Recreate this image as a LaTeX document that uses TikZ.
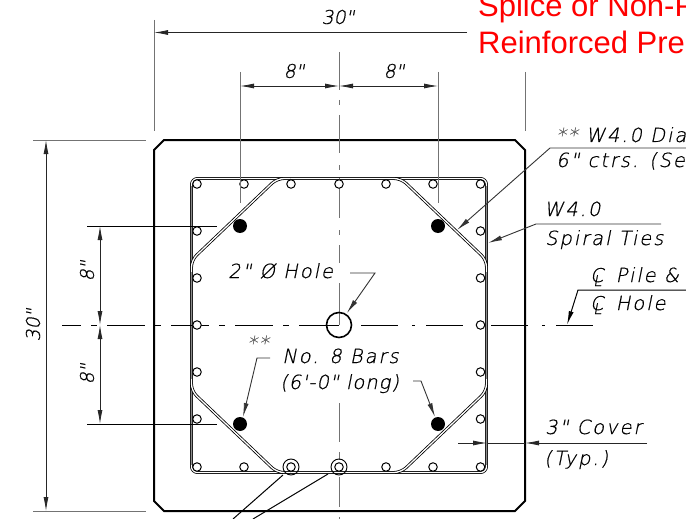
\documentclass[tikz,border=0pt]{standalone}
\usepackage{fontspec}
\setmainfont{DejaVu Sans}
\newfontfamily\dimfont[FakeSlant=0.2,FakeBold=0.6]{DejaVu Sans ExtraLight}
\newfontfamily\notefont[FakeSlant=0.2,FakeBold=0.6,LetterSpace=10]{DejaVu Sans ExtraLight}
\newfontfamily\tightfont[FakeSlant=0.2,FakeBold=0.6,LetterSpace=5]{DejaVu Sans ExtraLight}
\newfontfamily\redfont{Liberation Sans}
\newcommand{\clsym}{\makebox[0pt][l]{\fontsize{19}{19}\selectfont C}\hspace{3pt}\raisebox{-4pt}{\fontsize{15}{15}\selectfont L}}
\usetikzlibrary{arrows.meta}
\tikzset{
    >={Latex[length=14pt,width=5pt]},
    dimline/.style={line width=0.8pt,black!85},
    extline/.style={line width=1pt,black!55},
    leader/.style={line width=0.9pt,black!80},
    cline/.style={line width=1pt,black},
    rebar/.style={line width=0.8pt,double=white,double distance=1.3pt},
    dimtext/.style={font=\dimfont\fontsize{19}{19}\selectfont,inner sep=0pt},
    notetext/.style={font=\notefont\fontsize{19.5}{19}\selectfont,inner sep=0pt,anchor=base west},
    redtext/.style={font=\redfont\fontsize{31}{31}\selectfont,text=red,inner sep=0pt,anchor=base west},
    strand/.style={circle,draw,fill=white,line width=1pt,minimum size=8.5pt,inner sep=0pt},
    bar/.style={circle,fill=black,minimum size=14pt,inner sep=0pt},
}
\begin{document}
\begin{tikzpicture}[x=1pt,y=-1pt]
    \path[use as bounding box,clip] (0,0) rectangle (686,519);
    \draw[line width=2pt] (164,140) -- (515,140) -- (525,150) -- (525,501) -- (515,511) -- (164,511) -- (154,501) -- (154,150) -- cycle;
    % spiral and ties
    \draw[rebar,rounded corners=6pt] (191.5,178.5) rectangle (486.5,472.5);
    \draw[line width=1.5pt,black!45] (191.5,186) -- (191.5,465);
    \draw[line width=1.5pt,black!45] (486.5,186) -- (486.5,465);
    \draw[rebar,rounded corners=7pt] (191.5,272) -- (191.5,260) -- (277,178.5) -- (290,178.5);
    \draw[rebar,rounded corners=7pt] (486.5,272) -- (486.5,260) -- (401,178.5) -- (388,178.5);
    \draw[rebar,rounded corners=7pt] (191.5,379) -- (191.5,391) -- (277,472.5) -- (290,472.5);
    \draw[rebar,rounded corners=7pt] (486.5,379) -- (486.5,391) -- (401,472.5) -- (388,472.5);
    % centre lines
    \foreach \ya/\yb in {52/90,100/105,115/153,165/170,178/218,230/235,245/263,283/325,403/442,452/460,477/507,517/519}
        \draw[extline] (339,\ya) -- (339,\yb);
    \draw[cline,dash pattern=on 38pt off 10pt on 6pt off 10pt,dash phase=19pt] (62,325) -- (339,325);
    \draw[cline,dash pattern=on 37pt off 14pt on 3pt off 11pt] (361,325) -- (594,325);
    % strands
    \foreach \x [count=\i] in {197,244,291,339,386,433,480.5} {
        \node[strand] (top\i) at (\x,184) {};
        \node[strand] (bot\i) at (\x,467) {};
    }
    \foreach \y [count=\i] in {231,278,325,372,419} {
        \node[strand] (lft\i) at (197,\y) {};
        \node[strand] (rgt\i) at (480.5,\y) {};
    }
    \draw[line width=0.9pt] (bot3) circle[radius=8];
    \draw[line width=0.9pt] (bot4) circle[radius=8];
    \node[bar] (barNW) at (240,226) {};
    \node[bar] (barNE) at (438,226) {};
    \node[bar] (barSW) at (240,424) {};
    \node[bar] (barSE) at (438,424) {};
    \node[circle,draw,line width=1.6pt,minimum size=25pt,inner sep=0pt] (hole) at (339,325) {};
    \draw[cline] (hole.west) -- (339,325);
    % dimensions
    \draw[extline] (154,20) -- (154,131);
    \draw[extline] (525,72) -- (525,131);
    \draw[extline] (240,72) -- (240,203);
    \draw[extline] (438,72) -- (438,203);
    \draw[dimline,->] (467,32.5) -- (154,32.5);
    \draw[dimline,<->] (240,86) -- (339,86);
    \draw[dimline,<->] (339,86) -- (438,86);
    \node[dimtext] (topAll) at (338,17) {30"};
    \node[dimtext] (topLeft) at (294,71) {8"};
    \node[dimtext] (topRight) at (394,71) {8"};
    \draw[extline] (33,140) -- (146,140);
    \draw[extline] (33,511) -- (146,511);
    \draw[cline] (87,226) -- (217,226);
    \draw[cline] (87,424) -- (217,424);
    \draw[dimline,<->] (46,140) -- (46,511);
    \draw[dimline,<->] (100,226) -- (100,325);
    \draw[dimline,<->] (100,325) -- (100,424);
    \node[dimtext,rotate=90] (sideAll) at (33,325) {30"};
    \node[dimtext,rotate=90] (sideUp) at (87,271) {8"};
    \node[dimtext,rotate=90] (sideLow) at (87,374) {8"};
    % notes
    \node[redtext] (redOne) at (478,17) {Splice or Non-P};
    \node[redtext] (redTwo) at (478,54) {Reinforced Pre};
    \node[notetext] (diaOne) at (556,142) {\textcolor{black!60}{**} W4.0 Dia};
    \node[notetext] (diaTwo) at (556,167) {6" ctrs. (Se};
    \draw[leader,->] (686,148) -- (550,148) -- (457,230);
    \node[notetext] (tieOne) at (544,216) {W4.0};
    \node[notetext] (tieTwo) at (545,245) {Spiral Ties};
    \draw[leader,->] (661,224) -- (536,224) -- (488,243);
    \node[notetext] (pileOne) at (590,282) {\clsym\hspace{6pt} Pile \&};
    \node[notetext] (pileTwo) at (590,310) {\clsym\hspace{6pt} Hole};
    \draw[cline,->] (686,290) -- (578,290) -- (567,325);
    \node[notetext] (holeText) at (228,278) {2" Ø Hole};
    \draw[leader,->] (350,273) -- (375,273) -- (347,313);
    \node[notetext,text=black!60] (starText) at (247,350) {**};
    \draw[leader,->] (270,358) -- (257,358) -- (243,417);
    \node[notetext] (barOne) at (282,363) {No. 8 Bars};
    \node[notetext,font=\tightfont\fontsize{19.5}{19}\selectfont] (barTwo) at (280,389) {(6'-0" long)};
    \draw[leader,->] (413,381) -- (421,381) -- (435,417);
    \node[notetext] (coverOne) at (545,434) {3" Cover};
    \node[notetext] (coverTwo) at (544,465) {(Typ.)};
    \draw[dimline,->] (458,443) -- (487,443);
    \draw[dimline,->] (647,443) -- (525,443);
    \draw[dimline] (487,443) -- (525,443);
    \draw[cline] (bot3) ++(-8,8) -- (233,519);
    \draw[cline] (bot4) ++(-11,7) -- (253,519);
\end{tikzpicture}
\end{document}
